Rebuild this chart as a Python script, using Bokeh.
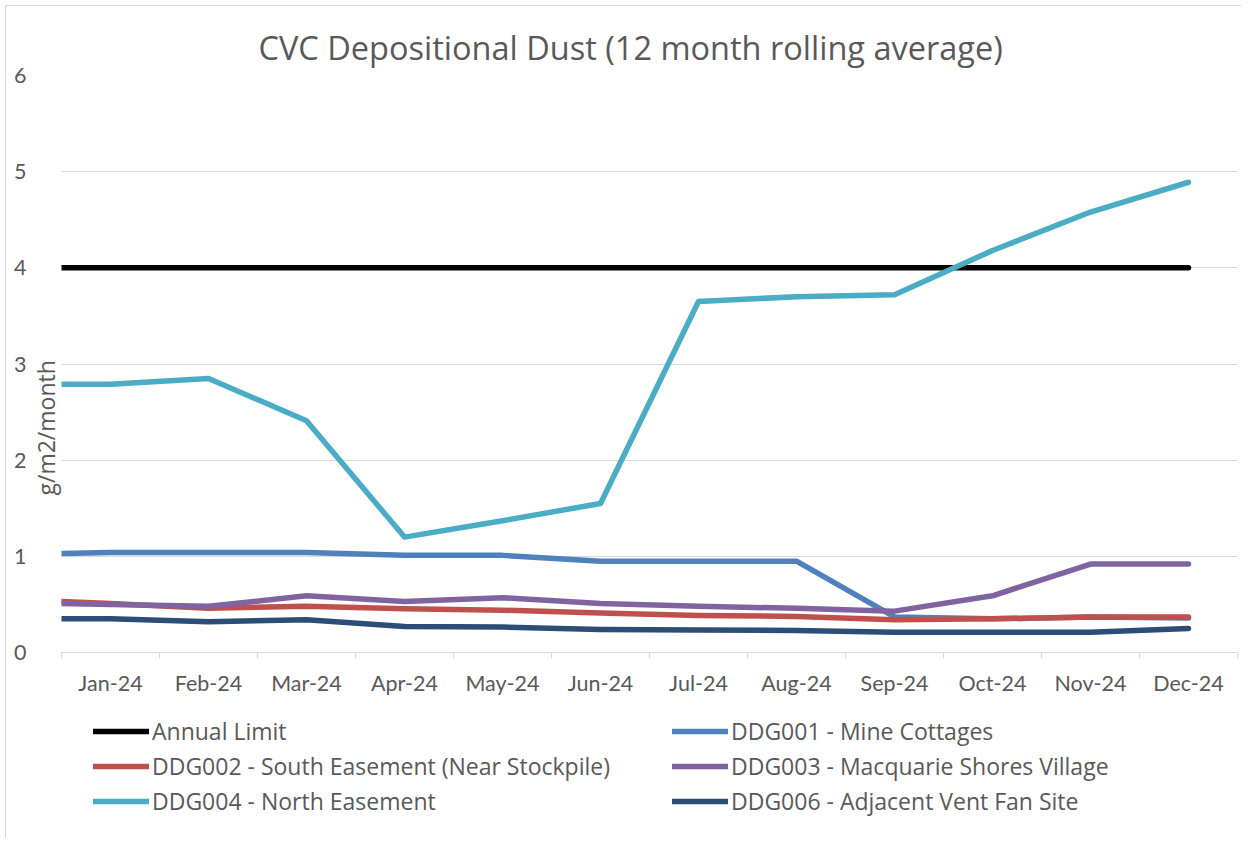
from bokeh.plotting import figure
from bokeh.models import (Legend, LegendItem, Title, FixedTicker, Range1d,
                          LinearAxis, Grid)
from bokeh.layouts import column
from bokeh.embed import file_html
from bokeh.resources import INLINE

# ---- data -------------------------------------------------------------
months = ["Jan-24", "Feb-24", "Mar-24", "Apr-24", "May-24", "Jun-24",
          "Jul-24", "Aug-24", "Sep-24", "Oct-24", "Nov-24", "Dec-24"]
y_ticks = [0, 1, 2, 3, 4, 5, 6]
# first value = value at the left edge of the axis, then Jan..Dec
annual_limit = [4, 4, 4, 4, 4, 4, 4, 4, 4, 4, 4, 4, 4]
ddg001 = [1.03, 1.04, 1.04, 1.04, 1.01, 1.01, 0.95, 0.95, 0.95, 0.37, 0.35, 0.37, 0.36]
ddg002 = [0.53, 0.51, 0.46, 0.48, 0.455, 0.44, 0.41, 0.385, 0.375, 0.34, 0.35, 0.37, 0.37]
ddg003 = [0.51, 0.50, 0.48, 0.59, 0.53, 0.57, 0.51, 0.48, 0.46, 0.43, 0.59, 0.92, 0.92]
ddg004 = [2.79, 2.79, 2.85, 2.41, 1.20, 1.37, 1.55, 3.65, 3.70, 3.72, 4.18, 4.58, 4.89]
ddg006 = [0.35, 0.35, 0.32, 0.34, 0.27, 0.265, 0.24, 0.235, 0.23, 0.21, 0.21, 0.21, 0.25]

series_names = ["Annual Limit", "DDG001 - Mine Cottages",
                "DDG002 - South Easement (Near Stockpile)",
                "DDG003 - Macquarie Shores Village",
                "DDG004 - North Easement", "DDG006 - Adjacent Vent Fan Site"]
series_values = [annual_limit, ddg001, ddg002, ddg003, ddg004, ddg006]
series_colors = ["#000000", "#4F81BD", "#C0504D", "#8064A2", "#4BACC6", "#2C4D75"]

TICK_FONT = "Lato"
TEXT_FONT = "Open Sans"
TXT = "#595959"
FS = "21.5px"

n = len(months)
centers = [i + 0.5 for i in range(n)]
xs = [0.0] + centers

W = 1235
p = figure(width=W, height=696, output_backend="svg", toolbar_location=None,
           x_range=Range1d(0, n), y_range=Range1d(0, 6), y_axis_location=None,
           min_border_left=55, min_border_right=4, min_border_top=69,
           min_border_bottom=50)
p.outline_line_color = None
p.background_fill_color = "white"
p.border_fill_color = "white"

# title
p.title.text = "CVC Depositional Dust (12 month rolling average)"
p.title.align = "left"
p.title.offset = 197
p.title.text_font = TEXT_FONT
p.title.text_font_size = "32.5px"
p.title.text_font_style = "normal"
p.title.text_color = TXT
p.title.standoff = 12

# x axis
p.xaxis.ticker = FixedTicker(ticks=centers, minor_ticks=list(range(n + 1)))
p.xaxis.major_label_overrides = {c: m for c, m in zip(centers, months)}
p.xaxis.major_tick_line_color = None
p.xaxis.major_tick_out = 0
p.xaxis.major_tick_in = 0
p.xaxis.minor_tick_line_color = "#d9d9d9"
p.xaxis.minor_tick_out = 6
p.xaxis.minor_tick_in = 0
p.xaxis.axis_line_color = "#d9d9d9"
p.xaxis.major_label_text_font = TICK_FONT
p.xaxis.major_label_text_font_size = FS
p.xaxis.major_label_text_color = TXT
p.xaxis.major_label_standoff = 11

# y axis title next to the frame, tick labels just outside it
ytitle = Title(text="g/m2/month", align="left", offset=157, standoff=0,
               text_font=TEXT_FONT, text_font_size="23px", text_font_style="normal",
               text_color=TXT)
p.add_layout(ytitle, "left")
yax = LinearAxis(ticker=FixedTicker(ticks=y_ticks))
yax.axis_line_color = None
yax.major_tick_line_color = None
yax.minor_tick_line_color = None
yax.major_tick_out = 0
yax.major_tick_in = 0
yax.major_label_text_font = TICK_FONT
yax.major_label_text_font_size = FS
yax.major_label_text_color = TXT
yax.major_label_standoff = 1
p.add_layout(yax, "left")

p.xgrid.grid_line_color = None
p.ygrid.grid_line_color = None
p.add_layout(Grid(dimension=1, ticker=FixedTicker(ticks=y_ticks),
                  grid_line_color="#d9d9d9", grid_line_width=1))

for vals, col in zip(series_values, series_colors):
    p.line(xs, vals, line_color=col, line_width=5.5,
           line_cap="round", line_join="round")

# ---- legend strip below the chart (same series, out of its view) --------
p2 = figure(width=W, height=136, output_backend="svg", toolbar_location=None,
            x_range=Range1d(-3, -2), y_range=Range1d(0, 1),
            x_axis_location=None, y_axis_location=None,
            min_border_left=0, min_border_right=0, min_border_top=0,
            min_border_bottom=0)
p2.outline_line_color = None
p2.grid.visible = False
p2.border_fill_color = "white"
p2.background_fill_color = "white"

items = []
for name, vals, col in zip(series_names, series_values, series_colors):
    r = p2.line(xs, vals, line_color=col, line_width=5.5,
                line_cap="round", line_join="round")
    items.append(LegendItem(label=name, renderers=[r]))

legend = Legend(items=items, location=(32, 21), orientation="horizontal", ncols=2)
legend.glyph_width = 56
legend.glyph_height = 20
legend.label_standoff = 3
legend.spacing = 3
legend.padding = 0
legend.margin = 0
legend.label_width = 517
legend.border_line_color = None
legend.background_fill_alpha = 0
legend.label_text_font = TEXT_FONT
legend.label_text_font_size = "23px"
legend.label_text_color = TXT
legend.label_height = 20
p2.add_layout(legend, "center")

layout = column(p, p2, spacing=0,
                styles={"border-top": "1px solid #d9d9d9",
                        "border-left": "1px solid #d9d9d9",
                        "margin-left": "5px", "margin-top": "5px"})

open("out.html", "w").write(file_html(layout, INLINE))
